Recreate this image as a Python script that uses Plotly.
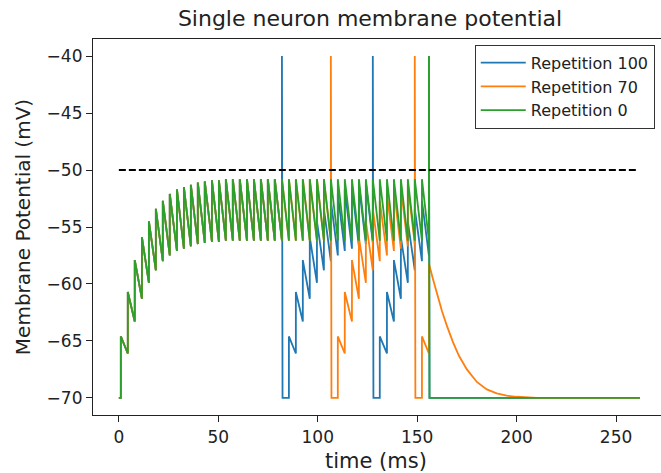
import plotly.graph_objects as go

# ------------------------------- DATA --------------------------------- #
# input spike times (ms), one sawtooth step each
input_times = [1.0, 4.5, 8.0, 11.6, 15.1, 18.6, 22.1, 25.6, 29.2, 32.7,
               36.2, 39.7, 43.2, 46.8, 50.3, 53.8, 57.3, 60.8, 64.4, 67.9,
               71.4, 74.9, 78.4, 82.0, 85.5, 89.0, 92.5, 96.0, 99.6, 103.1,
               106.6, 110.1, 113.6, 117.2, 120.7, 124.2, 127.7, 131.2, 134.8, 138.3,
               141.8, 145.3, 148.8, 152.4, 155.9]

SPIKE = -40.0
REST = -70.0
THRESHOLD = -50.0

# membrane potential just before / just after each input (mV)
green_before = [-70.0, -66.1, -63.3, -61.3, -59.9, -58.8, -58.0, -57.5, -57.1, -56.9,
                -56.7, -56.5, -56.4, -56.3, -56.3, -56.2, -56.2, -56.2, -56.2, -56.2,
                -56.2, -56.2, -56.2, -56.2, -56.2, -56.2, -56.2, -56.2, -56.2, -56.2,
                -56.2, -56.2, -56.2, -56.2, -56.2, -56.2, -56.2, -56.2, -56.2, -56.2,
                -56.2, -56.2, -56.2, -56.2, -56.2]
green_after = [-64.6, -60.7, -57.9, -55.9, -54.5, -53.4, -52.7, -52.1, -51.7, -51.5,
               -51.3, -51.1, -51.0, -50.9, -50.9, -50.8, -50.8, -50.8, -50.8, -50.8,
               -50.8, -50.8, -50.8, -50.8, -50.8, -50.8, -50.8, -50.8, -50.8, -50.8,
               -50.8, -50.8, -50.8, -50.8, -50.8, -50.8, -50.8, -50.8, -50.8, -50.8,
               -50.8, -50.8, -50.8, -50.8, -40.0]

blue_before = [-70.0, -66.1, -63.3, -61.3, -59.9, -58.8, -58.0, -57.5, -57.1, -56.9,
               -56.7, -56.5, -56.4, -56.3, -56.3, -56.2, -56.2, -56.2, -56.2, -56.2,
               -56.2, -56.2, -56.2, -56.2, -70.0, -66.1, -63.3, -61.3, -59.9, -58.8,
               -58.0, -57.5, -57.1, -56.9, -56.7, -56.5, -56.4, -70.0, -66.1, -63.3,
               -61.3, -59.9, -58.8, -58.0, -57.5]
blue_after = [-64.6, -60.7, -57.9, -55.9, -54.5, -53.4, -52.7, -52.1, -51.7, -51.5,
              -51.3, -51.1, -51.0, -50.9, -50.9, -50.8, -50.8, -50.8, -50.8, -50.8,
              -50.8, -50.8, -50.8, -40.0, -64.6, -60.7, -57.9, -55.9, -54.5, -53.4,
              -52.7, -52.1, -51.7, -51.5, -51.3, -51.1, -40.0, -64.6, -60.7, -57.9,
              -55.9, -54.5, -53.4, -52.7, -40.0]

orange_before = [-70.0, -66.1, -63.3, -61.3, -59.9, -58.8, -58.0, -57.5, -57.1, -56.9,
                 -56.7, -56.5, -56.4, -56.3, -56.3, -56.2, -56.2, -56.2, -56.2, -56.2,
                 -56.2, -56.2, -56.2, -56.2, -56.2, -56.2, -56.2, -56.2, -56.2, -56.2,
                 -56.2, -70.0, -66.1, -63.3, -61.3, -59.9, -58.8, -58.0, -57.5, -57.1,
                 -56.9, -56.7, -56.5, -70.0, -66.1]
orange_after = [-64.6, -60.7, -57.9, -55.9, -54.5, -53.4, -52.7, -52.1, -51.7, -51.5,
                -51.3, -51.1, -51.0, -50.9, -50.9, -50.8, -50.8, -50.8, -50.8, -50.8,
                -50.8, -50.8, -50.8, -50.8, -50.8, -50.8, -50.8, -50.8, -50.8, -50.8,
                -40.0, -64.6, -60.7, -57.9, -55.9, -54.5, -53.4, -52.7, -52.1, -51.7,
                -51.5, -51.3, -40.0, -64.6, -58.2]

# after the last input: reset traces stay at rest, orange leaks back down
reset_tail_t = [156.2, 262.0]
reset_tail_v = [-70.0, -70.0]
orange_tail_t = [158.0, 160.0, 162.5, 165.0, 168.0, 171.0, 175.0, 180.0, 185.0, 190.0,
                 195.0, 200.0, 210.0, 262.0]
orange_tail_v = [-59.6, -60.9, -62.4, -63.7, -65.1, -66.3, -67.5, -68.6, -69.25, -69.6,
                 -69.8, -69.9, -70.0, -70.0]


def build_trace(before, after, tail_t, tail_v):
    t, v = [0.0], [REST]
    for tk, b, a in zip(input_times, before, after):
        t += [tk, tk]
        v += [b, a]
        if a == SPIKE:
            # reset right after the spike
            t.append(tk + 0.3)
            v.append(REST)
    return t + tail_t, v + tail_v


# ------------------------------ VISUALIZE ----------------------------- #
fig = go.Figure()

traces = [
    ('Repetition 100', '#1f77b4', blue_before, blue_after, reset_tail_t, reset_tail_v),
    ('Repetition 70', '#ff7f0e', orange_before, orange_after, orange_tail_t, orange_tail_v),
    ('Repetition 0', '#2ca02c', green_before, green_after, reset_tail_t, reset_tail_v),
]
for name, color, b, a, tt, tv in traces:
    t, v = build_trace(b, a, tt, tv)
    fig.add_trace(go.Scatter(x=t, y=v, mode='lines', name=name,
                             line=dict(color=color, width=1.8)))

fig.add_trace(go.Scatter(x=[0, 260], y=[THRESHOLD, THRESHOLD], mode='lines',
                         line=dict(color='black', width=2, dash='7px,3px'),
                         showlegend=False, hoverinfo='skip'))

font = 'DejaVu Sans, Verdana, sans-serif'
fig.update_layout(
    width=661, height=473,
    margin=dict(l=93, r=0, t=39, b=58),
    plot_bgcolor='white', paper_bgcolor='white',
    font=dict(family=font, size=17, color='#222'),
    title=dict(text='Single neuron membrane potential', x=370 / 661, xref='container',
               xanchor='center', y=1 - 18 / 473, yref='container', yanchor='middle',
               font=dict(size=22, color='#222')),
    legend=dict(x=0.989, y=0.985, xanchor='right', yanchor='top',
                bgcolor='white', bordercolor='#333', borderwidth=1,
                itemwidth=45, font=dict(size=16)),
    annotations=[dict(text='time (ms)', x=(376 - 93) / 568, y=-(461 - 415) / 376,
                      xref='paper', yref='paper', showarrow=False,
                      xanchor='center', yanchor='middle', font=dict(size=21))],
)
fig.update_xaxes(range=[-13, 272.6], tickvals=[0, 50, 100, 150, 200, 250],
                 showgrid=False, zeroline=False, showline=True, mirror=True,
                 linecolor='#222', linewidth=1.2, ticks='outside', ticklen=6,
                 tickwidth=1.2, tickcolor='#222')
fig.update_yaxes(range=[-71.5, -38.5], tickvals=[-70, -65, -60, -55, -50, -45, -40],
                 showgrid=False, zeroline=False, showline=True, mirror=False,
                 linecolor='#222', linewidth=1.2, ticks='outside', ticklen=6,
                 tickwidth=1.2, tickcolor='#222',
                 title=dict(text='Membrane Potential (mV)', font=dict(size=20), standoff=10))

# page body margin would shift the 661x473 figure, drop it
fig.write_html('out.html', config={'displayModeBar': False},
               post_script="document.body.style.margin='0';")
